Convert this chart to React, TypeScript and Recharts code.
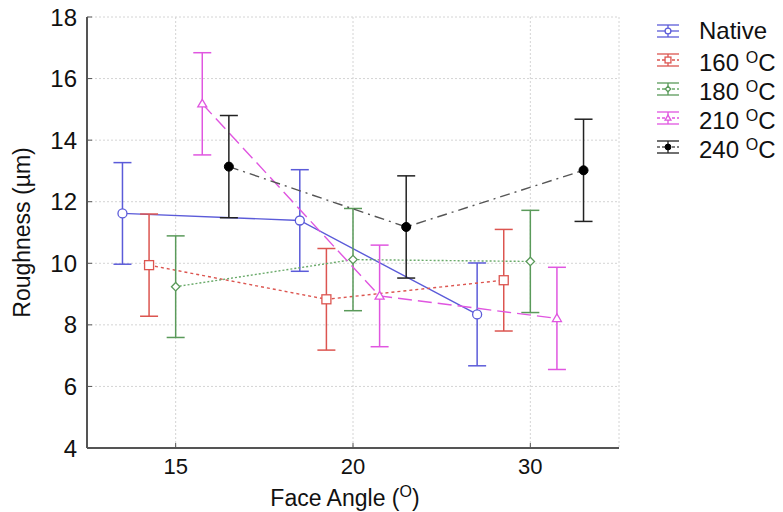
import React from "react";
import {
  ComposedChart,
  Line,
  XAxis,
  YAxis,
  CartesianGrid,
  ErrorBar,
  Legend,
  Label,
} from "recharts";

// face angle groups on the x axis
const angles = ["15", "20", "30"];

// mean roughness (µm) and error half-width per group
const nativeMean = [11.62, 11.39, 8.34];
const nativeErr = [1.65, 1.65, 1.67];
const t160Mean = [9.94, 8.83, 9.45];
const t160Err = [1.66, 1.65, 1.65];
const t180Mean = [9.24, 10.12, 10.06];
const t180Err = [1.65, 1.66, 1.66];
const t210Mean = [15.18, 8.94, 8.21];
const t210Err = [1.66, 1.65, 1.66];
const t240Mean = [13.14, 11.18, 13.02];
const t240Err = [1.66, 1.66, 1.66];

const yTicks = [4, 6, 8, 10, 12, 14, 16, 18];

const FONT = "Arial, 'Liberation Sans', sans-serif";
const FRAME = "#555";
const DODGE = 0.15;

type Shape = "circle" | "square" | "diamond" | "triangle" | "dot";

const series = [
  { name: "Native", unit: false, mean: nativeMean, err: nativeErr, color: "#5b5bd9", line: "#5b5bd9", dash: undefined, shape: "circle" as Shape },
  { name: "160", unit: true, mean: t160Mean, err: t160Err, color: "#dc5550", line: "#dc5550", dash: "3 3", shape: "square" as Shape },
  { name: "180", unit: true, mean: t180Mean, err: t180Err, color: "#5a9a5a", line: "#6aaa6a", dash: "2 2", shape: "diamond" as Shape },
  { name: "210", unit: true, mean: t210Mean, err: t210Err, color: "#e056e0", line: "#e056e0", dash: "14 6", shape: "triangle" as Shape },
  { name: "240", unit: true, mean: t240Mean, err: t240Err, color: "#222222", line: "#555555", dash: "10 5 2 5", shape: "dot" as Shape },
];

const tables = series.map((s, si) =>
  angles.map((a, i) => ({
    x: i + 1 + (si - 2) * DODGE,
    y: s.mean[i],
    err: s.err[i],
  }))
);

function marker(shape: Shape, color: string, cx: number, cy: number, size = 1) {
  const sw = 1.3;
  switch (shape) {
    case "circle": {
      const r = 4.5 * size;
      return <circle cx={cx} cy={cy} r={r} fill="#fff" stroke={color} strokeWidth={sw} />;
    }
    case "square": {
      const r = 4.5 * size;
      return <rect x={cx - r} y={cy - r} width={r * 2} height={r * 2} fill="#fff" stroke={color} strokeWidth={sw} />;
    }
    case "diamond": {
      const r = 4.2 * size;
      return (
        <polygon
          points={`${cx},${cy - r} ${cx + r},${cy} ${cx},${cy + r} ${cx - r},${cy}`}
          fill="#fff"
          stroke={color}
          strokeWidth={sw}
        />
      );
    }
    case "triangle": {
      const r = 4.5 * size;
      return (
        <polygon
          points={`${cx},${cy - r} ${cx + r},${cy + r * 0.7} ${cx - r},${cy + r * 0.7}`}
          fill="#fff"
          stroke={color}
          strokeWidth={sw}
        />
      );
    }
    default: {
      const r = 4.5 * size;
      return <circle cx={cx} cy={cy} r={r} fill="#000" stroke="#000" strokeWidth={1} />;
    }
  }
}

function LegendBox() {
  return (
    <div style={{ fontFamily: FONT, fontSize: 24, color: "#111", lineHeight: "29px" }}>
      {series.map((s) => (
        <div key={s.name} style={{ display: "flex", alignItems: "center", height: 29 }}>
          <svg width={24} height={14} style={{ marginRight: 19 }}>
            <line x1={1} y1={1} x2={23} y2={1} stroke={s.color} strokeWidth={1.3} />
            <line x1={1} y1={13} x2={23} y2={13} stroke={s.color} strokeWidth={1.3} />
            <line x1={1} y1={7} x2={23} y2={7} stroke={s.line} strokeWidth={1.3} strokeDasharray={s.dash ? "3 2" : undefined} />
            <line x1={12} y1={1} x2={12} y2={13} stroke={s.color} strokeWidth={1.3} />
            {marker(s.shape, s.color, 12, 7, 0.65)}
          </svg>
          <span>
            {s.name}
            {s.unit && (
              <>
                {" "}
                <span style={{ fontSize: 16, verticalAlign: 8 }}>O</span>C
              </>
            )}
          </span>
        </div>
      ))}
    </div>
  );
}

function XTitle(props: any) {
  const vb = props.viewBox || {};
  const cx = vb.x + vb.width / 2 - 8;
  return (
    <text x={cx} y={vb.y + 58} textAnchor="middle" fontFamily={FONT} fontSize={23} fill="#111">
      Face Angle (
      <tspan fontSize={16} dy={-9}>O</tspan>
      <tspan dy={9}>)</tspan>
    </text>
  );
}

export default function App() {
  return (
    <div style={{ position: "absolute", left: 0, top: 0, background: "#fff" }}>
      <ComposedChart width={783} height={512} margin={{ top: 17, right: 164, bottom: 0, left: 0 }}>
        <CartesianGrid stroke="#d4d4d4" strokeDasharray="2 2" />
        <XAxis
          type="number"
          dataKey="x"
          domain={[0.5, 3.5]}
          ticks={[1, 2, 3]}
          allowDataOverflow
          tickFormatter={(v: number) => angles[Math.round(v) - 1]}
          height={64}
          tickSize={-5}
          tickMargin={15}
          tickLine={{ stroke: FRAME }}
          axisLine={{ stroke: FRAME, strokeWidth: 2 }}
          tick={{ fill: "#111", fontSize: 22, fontFamily: FONT }}
        >
          <Label content={XTitle} />
        </XAxis>
        <XAxis
          xAxisId="top"
          orientation="top"
          type="number"
          dataKey="x"
          domain={[0.5, 3.5]}
          ticks={[1, 2, 3]}
          allowDataOverflow
          tickFormatter={() => ""}
          height={0}
          tickSize={-5}
          tickLine={{ stroke: FRAME }}
          axisLine={{ stroke: FRAME, strokeWidth: 2 }}
        />
        <YAxis
          type="number"
          domain={[4, 18]}
          ticks={yTicks}
          allowDataOverflow
          width={87}
          tickSize={-5}
          tickMargin={15}
          tickLine={{ stroke: FRAME }}
          axisLine={{ stroke: FRAME, strokeWidth: 2 }}
          tick={{ fill: "#111", fontSize: 24, fontFamily: FONT }}
        >
          <Label
            value="Roughness (µm)"
            angle={-90}
            position="insideLeft"
            offset={22}
            style={{ textAnchor: "middle", fontFamily: FONT, fontSize: 23, fill: "#111" }}
          />
        </YAxis>
        <YAxis
          yAxisId="right"
          orientation="right"
          type="number"
          domain={[4, 18]}
          ticks={yTicks}
          allowDataOverflow
          width={0}
          tickFormatter={() => ""}
          tickSize={-5}
          tickLine={{ stroke: FRAME }}
          axisLine={{ stroke: FRAME, strokeWidth: 2 }}
        />
        <Legend
          layout="horizontal"
          align="center"
          verticalAlign="middle"
          content={() => <LegendBox />}
          wrapperStyle={{ left: 656, top: 16, width: 127, height: 150 }}
        />
        {series.map((s, si) => (
          <Line
            key={s.name}
            name={s.name}
            data={tables[si]}
            dataKey="y"
            type="linear"
            stroke={s.line}
            strokeWidth={1.4}
            strokeDasharray={s.dash}
            isAnimationActive={false}
            dot={(p: any) => <g key={`${s.name}-${p.index}`}>{marker(s.shape, s.color, p.cx, p.cy)}</g>}
            activeDot={false}
          >
            <ErrorBar dataKey="err" width={9} stroke={s.color} strokeWidth={1.5} direction="y" />
          </Line>
        ))}
      </ComposedChart>
    </div>
  );
}
